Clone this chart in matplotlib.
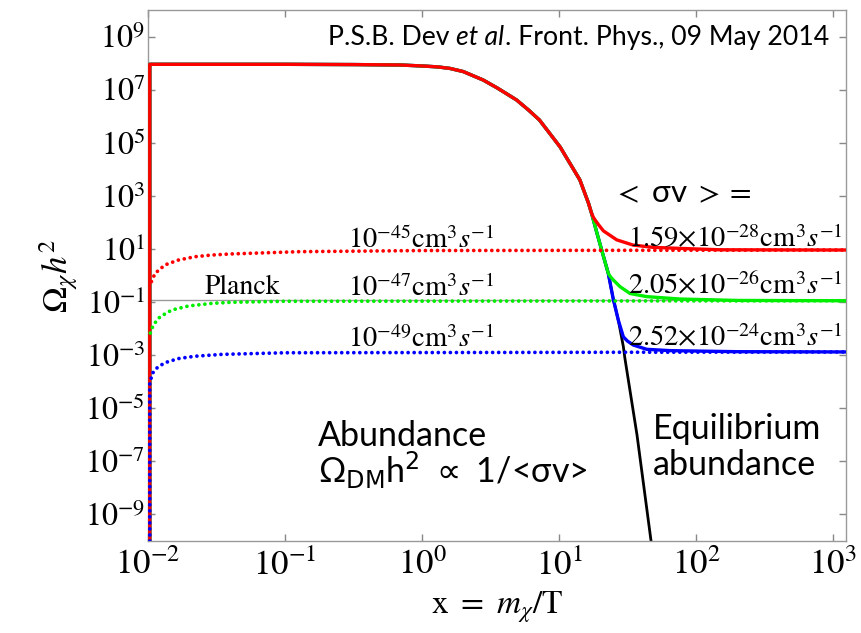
import math
import matplotlib
matplotlib.use("Agg")
import matplotlib.pyplot as plt
from matplotlib.ticker import FixedLocator, FuncFormatter, NullLocator

plt.rcParams["font.family"] = "STIXGeneral"
plt.rcParams["mathtext.fontset"] = "stix"

# values read off the log-log axes of the reference
# equilibrium abundance (black); the solid curves follow it until freeze-out
eq_x = [0.0103, 0.0103, 0.1, 0.32, 0.69, 1.0, 1.3, 1.6, 2.0, 2.8, 3.55, 4.9, 6.0, 7.2, 10.2, 12.0, 14.2,
        16.4, 17.3, 18.8, 20.5, 22.9, 24.9, 27.1, 29.5, 30.3, 37.1, 47.0]
eq_y = [1e-10, 9.0e7, 9.0e7, 8.8e7, 8.5e7, 7.8e7, 7.2e7, 6.3e7, 4.8e7, 2.3e7, 1.15e7, 4.1e6, 1.7e6, 7.2e5,
        6.9e4, 1.7e4, 4.0e3, 5.4e2, 2.2e2, 45, 9.1, 1.2, 0.13, 0.021, 2.1e-3, 7.5e-4, 1.0e-6, 1e-10]
red_split, green_split, blue_split = 18, 21, 23      # last eq point shared by each curve

# freeze-out branches (solid)
red_fo_x = [17.8, 18.3, 19.5, 21.1, 26.4, 34.7, 48.5, 76.4, 150, 1250]
red_fo_y = [158, 126, 80, 48, 22, 14, 11.5, 10.5, 9.3, 9.1]
green_fo_x = [23.8, 24.9, 27.9, 33.0, 43.7, 76.4, 200, 1250]
green_fo_y = [0.89, 0.68, 0.38, 0.21, 0.16, 0.13, 0.115, 0.112]
blue_fo_x = [29.5, 31.6, 34.9, 43.7, 64.6, 200, 1250]
blue_fo_y = [4.9e-3, 3.4e-3, 2.4e-3, 1.66e-3, 1.48e-3, 1.35e-3, 1.32e-3]

# dotted curves (constant cross sections)
red_dot_x = [0.0106, 0.01125, 0.0133, 0.0166, 0.0220, 0.0292, 0.0408, 0.128, 1.0, 1250]
red_dot_y = [0.59, 1.2, 2.5, 3.8, 5.1, 5.9, 6.5, 7.9, 8.7, 9.1]
green_dot_x = [0.0104, 0.01094, 0.01225, 0.0149, 0.0197, 0.0292, 0.0408, 0.1, 1250]
green_dot_y = [6.8e-3, 0.0138, 0.028, 0.050, 0.071, 0.089, 0.098, 0.107, 0.112]
blue_dot_x = [0.0103, 0.0103, 0.0108, 0.01175, 0.0133, 0.0166, 0.0220, 0.0347, 0.1, 1250]
blue_dot_y = [1e-10, 8.9e-5, 2.1e-4, 3.5e-4, 5.2e-4, 7.4e-4, 9.1e-4, 1.07e-3, 1.23e-3, 1.32e-3]

planck = 0.12
dot_labels = [r"$10^{-45}\mathrm{cm}^3s^{-1}$", r"$10^{-47}\mathrm{cm}^3s^{-1}$", r"$10^{-49}\mathrm{cm}^3s^{-1}$"]
sol_labels = [r"$1.59{\times}10^{-28}\mathrm{cm}^3s^{-1}$", r"$2.05{\times}10^{-26}\mathrm{cm}^3s^{-1}$",
              r"$2.52{\times}10^{-24}\mathrm{cm}^3s^{-1}$"]
yticks = [1e-9, 1e-7, 1e-5, 1e-3, 1e-1, 1e1, 1e3, 1e5, 1e7, 1e9]
xticks = [1e-2, 1e-1, 1e0, 1e1, 1e2, 1e3]

fig = plt.figure(figsize=(8.62, 6.33), dpi=100)
ax = fig.add_axes([148 / 862, 92 / 633, 698 / 862, 531 / 633])
ax.set_xscale("log"); ax.set_yscale("log")
ax.set_xlim(1e-2, 1245); ax.set_ylim(1e-10, 1e10)

dots = dict(linestyle=(0, (0.01, 1.6)), dash_capstyle="round", lw=2.7)
ax.axhline(planck, color="#999999", lw=1.0, zorder=1)
ax.plot(eq_x, eq_y, color="black", lw=2.0, zorder=2)
ax.plot(eq_x[:blue_split + 1] + blue_fo_x, eq_y[:blue_split + 1] + blue_fo_y, color="#0000ff", lw=2.4, zorder=3)
ax.plot(eq_x[:green_split + 1] + green_fo_x, eq_y[:green_split + 1] + green_fo_y, color="#00ee00", lw=2.4, zorder=4)
ax.plot(eq_x[:red_split + 1] + red_fo_x, eq_y[:red_split + 1] + red_fo_y, color="#ff0000", lw=2.4, zorder=5)
ax.plot(red_dot_x, red_dot_y, color="#ff0000", zorder=6, **dots)
ax.plot(green_dot_x, green_dot_y, color="#00ee00", zorder=6, **dots)
ax.plot(blue_dot_x, blue_dot_y, color="#0000ff", zorder=6, **dots)

# axes styling (Mathematica-like frame)
for s in ax.spines.values():
    s.set_color("#999999"); s.set_linewidth(1.0)
ax.xaxis.set_major_locator(FixedLocator(xticks)); ax.xaxis.set_minor_locator(NullLocator())
ax.yaxis.set_major_locator(FixedLocator(yticks)); ax.yaxis.set_minor_locator(NullLocator())
fmt = FuncFormatter(lambda v, p: r"$10^{%d}$" % round(math.log10(v)))
ax.xaxis.set_major_formatter(fmt); ax.yaxis.set_major_formatter(fmt)
ax.tick_params(which="both", direction="in", top=True, right=True, color="#888888", length=5, width=1)
ax.tick_params(axis="y", labelsize=23, pad=2)
ax.tick_params(axis="x", labelsize=25, pad=6)
ax.set_ylabel(r"$\Omega_\chi h^2$", fontsize=25, labelpad=4)
ax.set_xlabel(r"$\mathrm{x}\ =\ m_\chi/\mathrm{T}$", fontsize=24, labelpad=5)

# curve annotations
for lab, y in zip(dot_labels, [11, 0.17, 2.0e-3]):
    ax.text(0.29, y, lab, fontsize=20.5, ha="left", va="baseline", zorder=7)
for lab, y in zip(sol_labels, [11.7, 0.19, 2.2e-3]):
    ax.text(1183, y, lab, fontsize=20.5, ha="right", va="baseline", zorder=7)
ax.text(0.0486, 0.2, "Planck", fontsize=20, ha="center", va="baseline")
ax.text(24.8, 590, r"$<$ σv $>=$", fontsize=22.5, family=["Lato", "DejaVu Sans"], ha="left", va="baseline")

# two-line labels; va="baseline" puts the last line's baseline at y
sans = dict(family=["Lato", "DejaVu Sans"], fontsize=24.5, ha="left", va="baseline")
ax.text(0.174, 1.5e-8, "Abundance\n" + r"Ω$_{\mathrm{DM}}$h$^{2}$ $\propto$ 1/<σv>",
        math_fontfamily="dejavusans", linespacing=0.95, **sans)
ax.text(48.5, 3.1e-8, "Equilibrium\nabundance", linespacing=1.15, **sans)

# citation, with italic "et al"
cite = dict(family=["Lato", "DejaVu Sans"], fontsize=19.2, va="bottom")
t1 = ax.text(0.258, 0.925, "P.S.B. Dev ", transform=ax.transAxes, **cite)
t2 = ax.annotate("et al", xy=(1, 0), xycoords=t1, style="italic", **cite)
ax.annotate(". Front. Phys., 09 May 2014", xy=(1, 0), xycoords=t2, **cite)

fig.savefig("out.png", dpi=100)
